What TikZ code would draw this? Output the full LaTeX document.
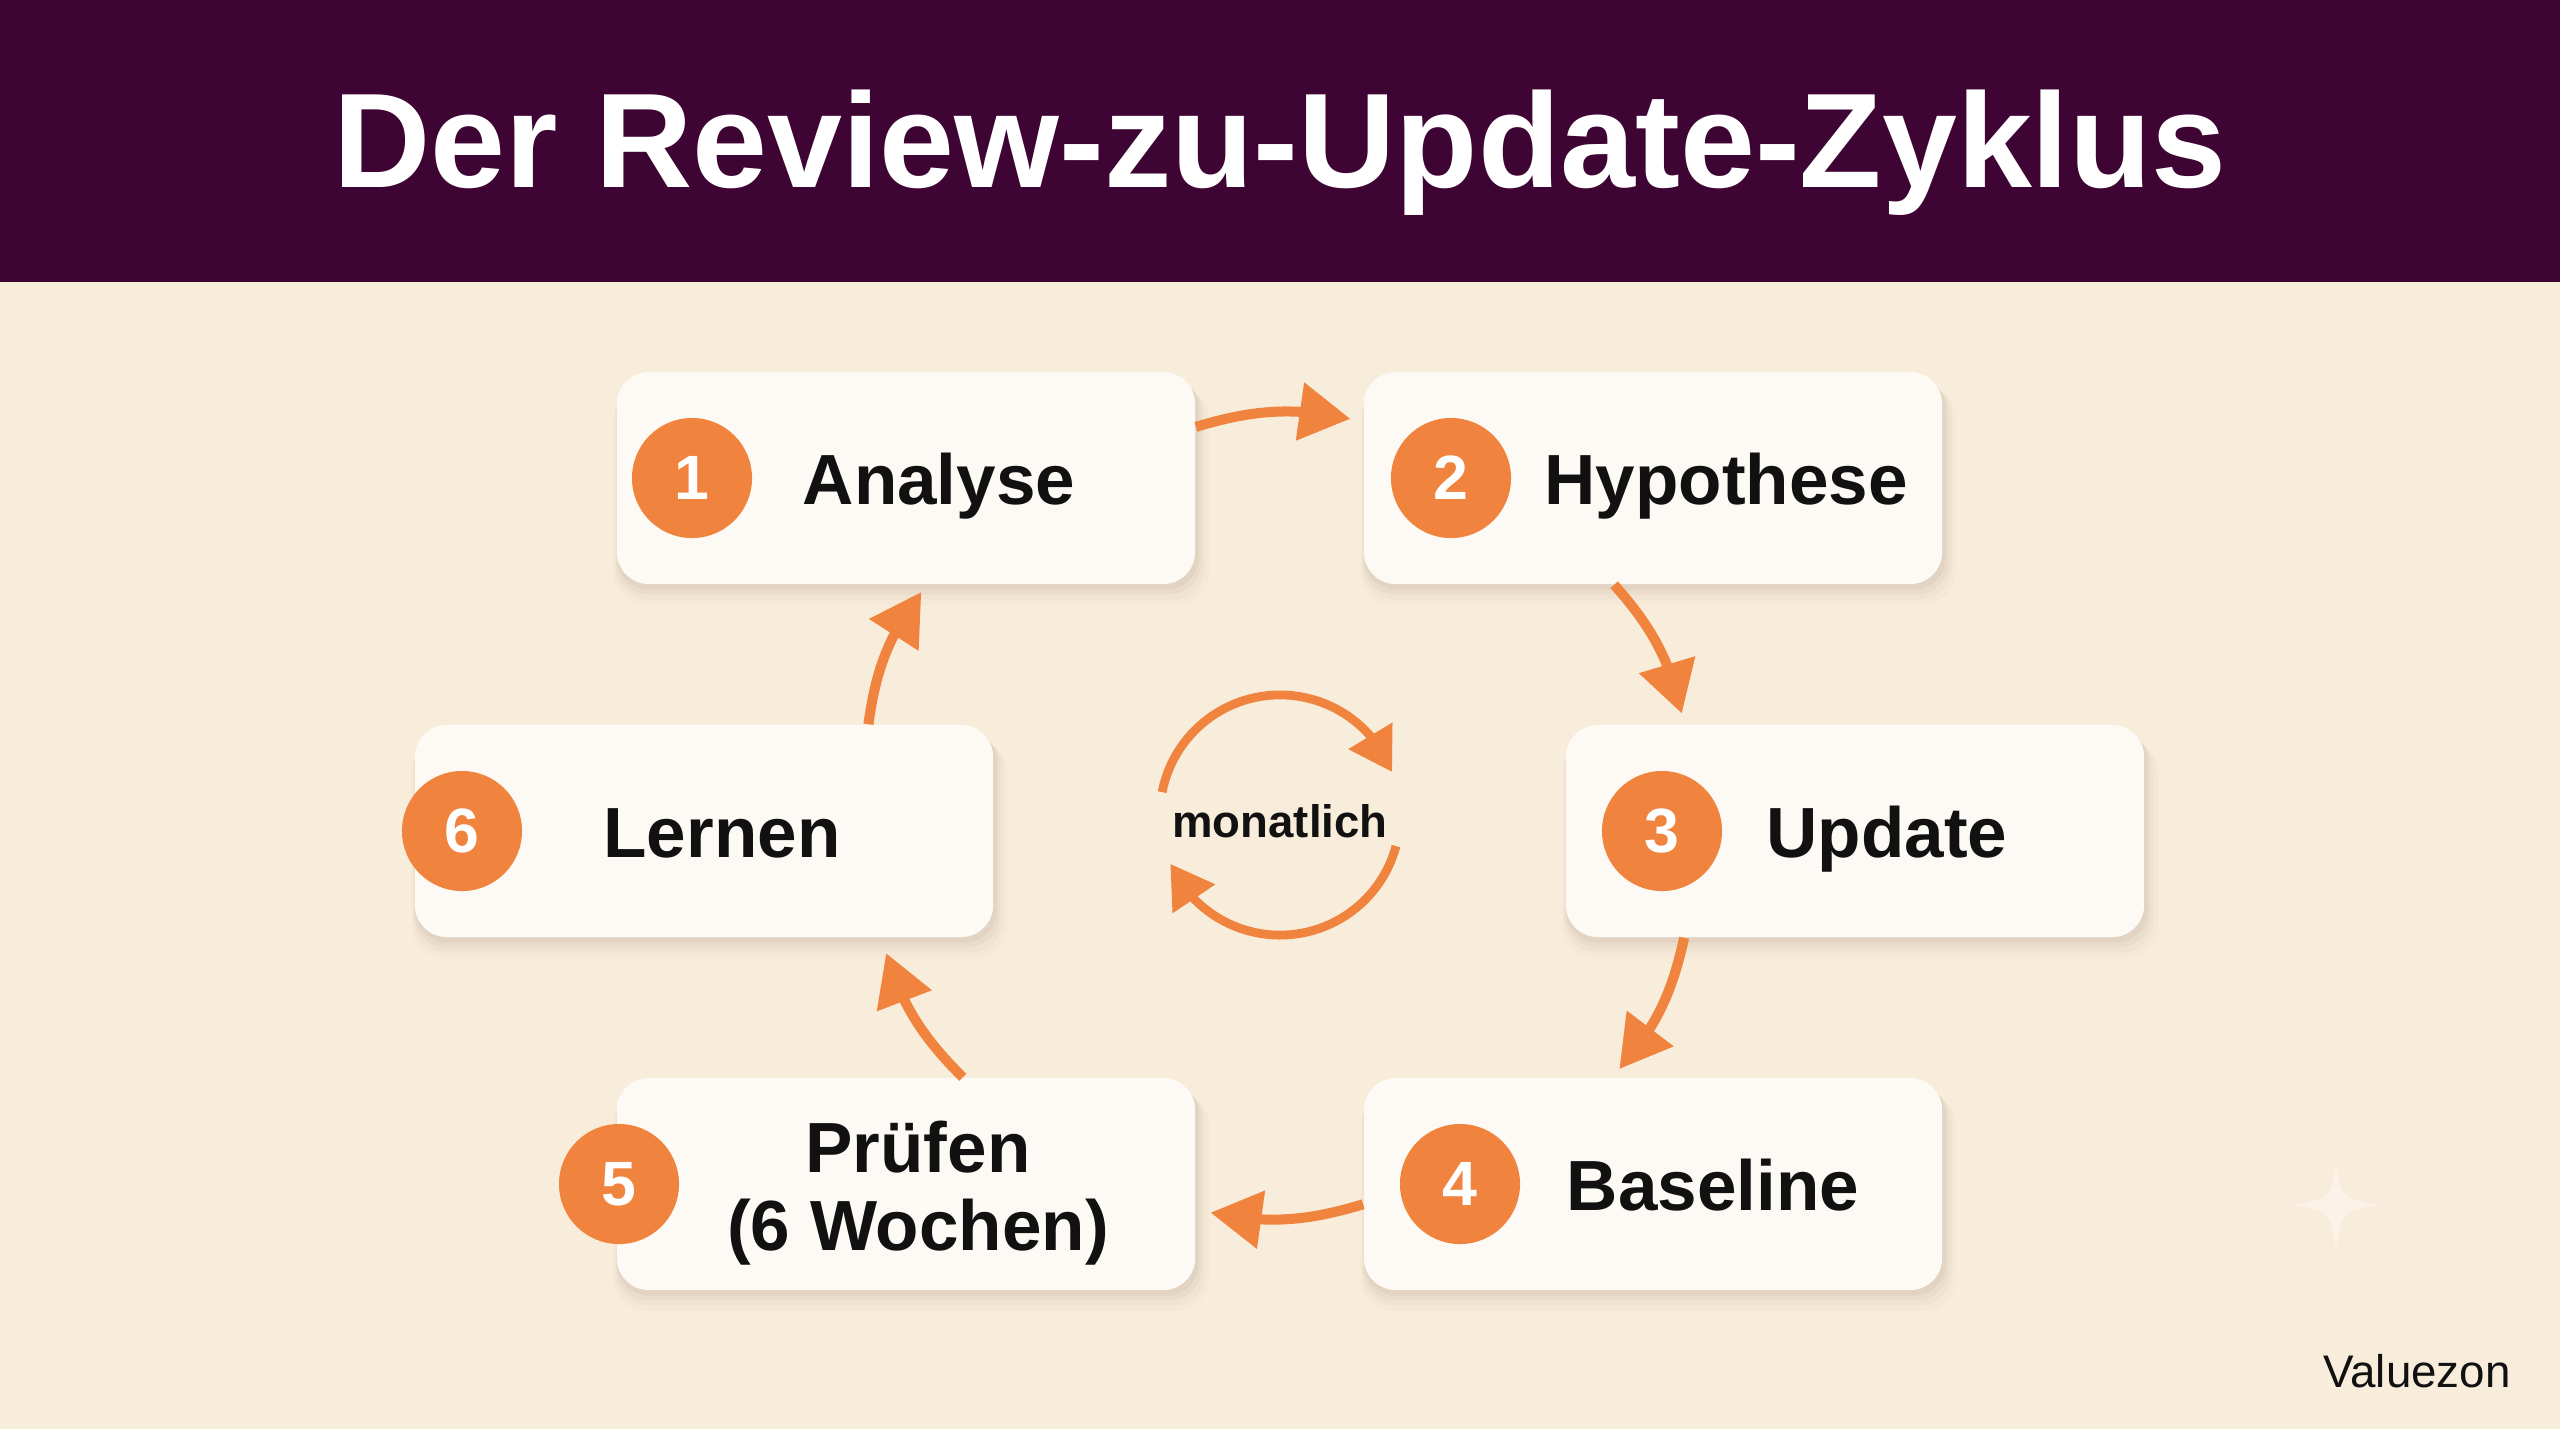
\documentclass[tikz,border=0pt]{standalone}
\usepackage{fontspec}
\setmainfont{Liberation Sans}
\usetikzlibrary{arrows.meta,shadows,bending}
\definecolor{bar}{HTML}{3E0433}
\definecolor{bg}{HTML}{F8ECDB}
\definecolor{cardfill}{HTML}{FDF9F4}
\definecolor{accent}{HTML}{F0843E}
\definecolor{ink}{HTML}{111111}
\definecolor{shade}{HTML}{6A5038}
\definecolor{sparkle}{HTML}{FBF3E8}
\begin{document}
\begin{tikzpicture}[x=0.01cm,y=0.01cm,
 card/.style={draw=none, fill=cardfill, rounded corners=0.32cm, minimum width=5.78cm, minimum height=2.12cm, inner sep=0pt,
   general shadow={fill=shade, opacity=0.02, shadow xshift=0.05cm, shadow yshift=-0.17cm, shadow scale=1.03},
   general shadow={fill=shade, opacity=0.03, shadow xshift=0.04cm, shadow yshift=-0.13cm, shadow scale=1.02},
   general shadow={fill=shade, opacity=0.045, shadow xshift=0.03cm, shadow yshift=-0.09cm, shadow scale=1.012},
   general shadow={fill=shade, opacity=0.06, shadow xshift=0.02cm, shadow yshift=-0.05cm, shadow scale=1.005}},
 badge/.style={circle, fill=accent, minimum size=1.2cm, inner sep=0pt, text=white, font=\fontsize{17.8}{20}\selectfont\bfseries},
 lbl/.style={anchor=base, text=ink, inner sep=0pt, font=\fontsize{20.2}{22.2}\selectfont\bfseries},
 flow/.style={draw=accent, line width=2.85pt, -{Triangle[length=14.5pt,width=16pt]}},
 loopar/.style={draw=accent, line width=2.5pt, -{Triangle[length=12pt,width=14pt]}}
]
\useasboundingbox (0,0) rectangle (2560,-1429);
\fill[bg] (0,0) rectangle (2560,-1429);
\fill[bar] (0,0) rectangle (2560,-282);
\node[anchor=base, text=white, inner sep=0pt, font=\fontsize{38.3}{41}\selectfont\bfseries] (title) at (1280,-187) {Der Review-zu-Update-Zyklus};

% sparkle
\fill[sparkle] (2336,-1161) .. controls (2342,-1199) .. (2380,-1205) .. controls (2342,-1211) .. (2336,-1249) .. controls (2330,-1211) .. (2292,-1205) .. controls (2330,-1199) .. (2336,-1161) -- cycle;

% cards
\node[card] (b1) at (906,-478) {};
\node[card] (b2) at (1653,-478) {};
\node[card] (b3) at (1855,-831) {};
\node[card] (b4) at (1653,-1184) {};
\node[card] (b5) at (906,-1184) {};
\node[card] (b6) at (704,-831) {};

% badges
\node[badge] (n1) at (692,-478) {1};
\node[badge] (n2) at (1451,-478) {2};
\node[badge] (n3) at (1662,-831) {3};
\node[badge] (n4) at (1460,-1184) {4};
\node[badge] (n5) at (619,-1184) {5};
\node[badge] (n6) at (462,-831) {6};

% labels
\node[lbl] (t1) at (939,-504) {Analyse};
\node[lbl] (t2) at (1726,-504) {Hypothese};
\node[lbl] (t3) at (1887,-857) {Update};
\node[lbl] (t4) at (1713,-1210) {Baseline};
\node[lbl] (t5a) at (918,-1172) {Prüfen};
\node[lbl] (t5b) at (918,-1250) {(6 Wochen)};
\node[lbl] (t6) at (722,-857) {Lernen};

% flow arrows
\draw[flow, shorten >=0.13cm] (b1.10) to[bend left=15] (b2.169);
\draw[flow, shorten >=0.11cm] (b2.250) to[bend left=15] (b3.148);
\draw[flow, shorten >=0.11cm] (b3.212) to[bend left=15] (b4.111);
\draw[flow, shorten >=0.15cm] (b4.184) to[bend left=15] (b5.355);
\draw[flow, shorten >=0.16cm] (b5.62) to[bend left=15] (b6.329);
\draw[flow, shorten >=0.09cm] (b6.33) to[bend left=15] (b1.281);

% center loop
\node[anchor=base, text=ink, inner sep=0pt, font=\fontsize{12.95}{15}\selectfont\bfseries] (mon) at (1280,-837) {monatlich};
\coordinate (lc) at (1280,-815);
\draw[loopar] ([shift={(169:1.2cm)}]lc) arc[start angle=169, end angle=21, radius=1.2cm];
\draw[loopar] ([shift={(-15:1.2cm)}]lc) arc[start angle=-15, end angle=-156, radius=1.2cm];

% brand
\node[anchor=base, text=ink, inner sep=0pt, font=\fontsize{13}{15}\selectfont] (brand) at (2417,-1387) {Valuezon};
\end{tikzpicture}
\end{document}
